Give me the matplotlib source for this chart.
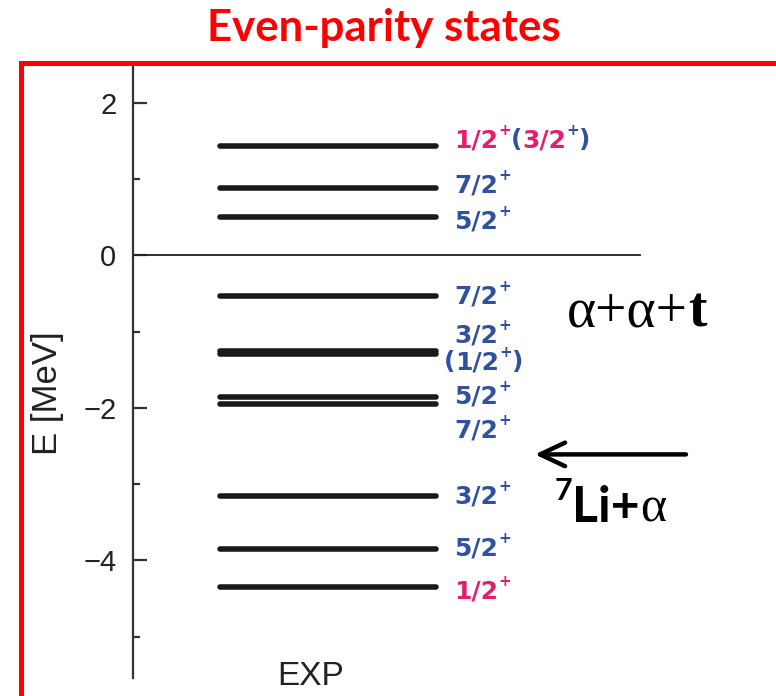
import matplotlib

matplotlib.use("Agg")

import matplotlib.pyplot as plt
from matplotlib.patches import Rectangle
from matplotlib.ticker import MultipleLocator

PINK = "#e0206e"
BLUE = "#3050a0"

# excitation levels of 11B measured from the alpha+alpha+t threshold (MeV)
level_energies = [1.43, 0.88, 0.50, -0.53, -1.26, -1.30, -1.86, -1.95, -3.16, -3.85, -4.35]
# baselines of the spin-parity labels (spread out where levels crowd)
label_energies = [1.415, 0.825, 0.354, -0.63, -1.14, -1.494, -1.94, -2.384, -3.249, -3.93, -4.494]
# each label is a list of (text, colour, is_superscript)
spin_labels = [
    [("1/2", PINK), ("+", PINK, True), ("(", BLUE), ("3/2", PINK), ("+", BLUE, True), (")", BLUE)],
    [("7/2", BLUE), ("+", BLUE, True)],
    [("5/2", BLUE), ("+", BLUE, True)],
    [("7/2", BLUE), ("+", BLUE, True)],
    [("3/2", BLUE), ("+", BLUE, True)],
    [("(", BLUE), ("1/2", BLUE), ("+", BLUE, True), (")", BLUE)],
    [("5/2", BLUE), ("+", BLUE, True)],
    [("7/2", BLUE), ("+", BLUE, True)],
    [("3/2", BLUE), ("+", BLUE, True)],
    [("5/2", BLUE), ("+", BLUE, True)],
    [("1/2", PINK), ("+", PINK, True)],
]
li_alpha_threshold = -2.61
y_ticks = [2, 0, -2, -4]

SANS_BOLD = {"family": "Lato", "weight": "bold"}
SERIF = {"family": "Liberation Serif"}
SERIF_BOLD = {"family": "Liberation Serif", "weight": "bold"}


def draw_pieces(ax, renderer, x, y, pieces, size, sup_size, sup_rise, font):
    # lay out text fragments side by side on a common baseline;
    # a piece may carry its own font as a fourth element
    dx = 0.0
    for piece in pieces:
        text, color = piece[0], piece[1]
        is_sup = len(piece) > 2 and piece[2]
        piece_font = piece[3] if len(piece) > 3 else font
        t = ax.annotate(
            text, (x, y), xytext=(dx, sup_rise if is_sup else 0), textcoords="offset pixels",
            color=color, fontsize=sup_size if is_sup else size, va="baseline", ha="left",
            annotation_clip=False, **piece_font,
        )
        dx += t.get_window_extent(renderer).width


fig = plt.figure(figsize=(7.76, 6.96), dpi=100)
ax = fig.add_axes([133 / 776, 18 / 696, 643 / 776, 612 / 696])
ax.set_xlim(0, 1)
ax.set_ylim(-5.54, 2.48)
renderer = fig.canvas.get_renderer()

for spine in ["top", "right", "bottom"]:
    ax.spines[spine].set_visible(False)
ax.spines["left"].set_linewidth(1.6)
ax.spines["left"].set_color("#333333")
ax.set_xticks([])
ax.set_yticks(y_ticks)
ax.set_yticklabels([str(v).replace("-", "\u2212") for v in y_ticks], family="Liberation Sans")
ax.yaxis.set_minor_locator(MultipleLocator(1))
ax.tick_params(axis="y", which="major", direction="in", length=10, width=1.6, color="#333333",
               labelsize=21, pad=12, labelcolor="#222222")
ax.tick_params(axis="y", which="minor", direction="in", length=5, width=1.6, color="#333333")
ax.set_ylabel("E [MeV]", fontsize=25, family="Liberation Sans", color="#222222")
ax.yaxis.set_label_coords(-0.108, 0.466)

ax.axhline(0, xmin=0, xmax=0.789, color="#222222", lw=1.3)

for e in level_energies:
    ax.plot([0.136, 0.472], [e, e], color="#1a1a1a", lw=4, solid_capstyle="round")

label_font = {"family": "DejaVu Sans", "weight": "bold"}
for e, pieces in zip(label_energies, spin_labels):
    x0 = 0.50 if pieces[0][0] != "(" else 0.483
    draw_pieces(ax, renderer, x0, e, pieces, 18, 11, 12, label_font)

fig.text(311 / 776, 1 - 685 / 696, "EXP", fontsize=24, family="Liberation Sans",
         color="#222222", ha="center", va="baseline")

# three-body threshold (zero of the energy scale)
draw_pieces(ax, renderer, 0.675, -0.94,
            [("\u03b1+\u03b1+", "black"), ("t", "black", False, SERIF_BOLD)], 40, 24, 14, SERIF)

# 7Li + alpha threshold
ax.annotate("", xy=(0.625, li_alpha_threshold), xytext=(0.860, li_alpha_threshold),
            arrowprops=dict(arrowstyle="->,head_length=1.8,head_width=0.85", lw=3.2,
                            color="black", shrinkA=0, shrinkB=0))
draw_pieces(ax, renderer, 0.656, -3.49,
            [("7", "black", True), ("Li+", "black"), ("\u03b1", "black", False, SERIF)],
            36, 22, 22, SANS_BOLD)

fig.text(384 / 776, 1 - 28 / 696, "Even-parity states", color="red", fontsize=31.5,
         ha="center", va="center", **SANS_BOLD)

fig.add_artist(Rectangle((20.5 / 776, -0.1), 2, 1 - 63 / 696 + 0.1, transform=fig.transFigure,
                         fill=False, edgecolor="red", lw=3.6, clip_on=False))

fig.savefig("out.png", dpi=100)
